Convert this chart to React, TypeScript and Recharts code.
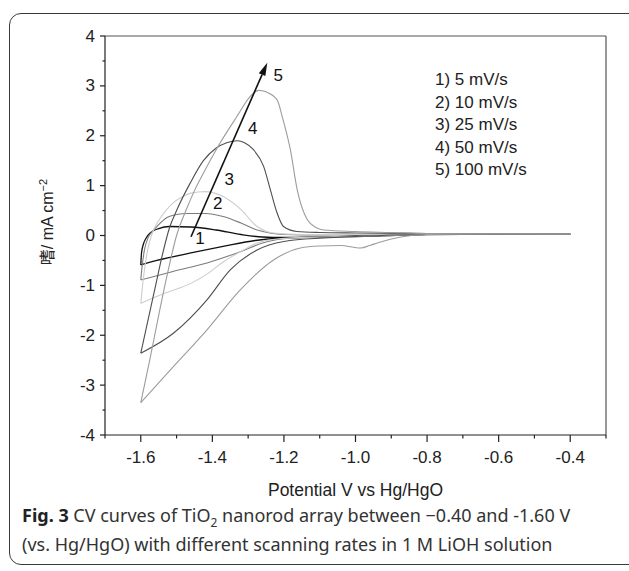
import React from 'react';
import { ComposedChart, Line, XAxis, YAxis, ReferenceLine, ReferenceDot } from 'recharts';

// ---- axis ticks ----
const xTicks = [-1.7, -1.6, -1.5, -1.4, -1.3, -1.2, -1.1, -1.0, -0.9, -0.8, -0.7, -0.6, -0.5, -0.4, -0.3];
const xLabelTicks = ['-1.6', '-1.4', '-1.2', '-1.0', '-0.8', '-0.6', '-0.4'];
const yTicks = [-4, -3.5, -3, -2.5, -2, -1.5, -1, -0.5, 0, 0.5, 1, 1.5, 2, 2.5, 3, 3.5, 4];
const yLabelTicks = ['-4', '-3', '-2', '-1', '0', '1', '2', '3', '4'];

// ---- series (potential V, current mA cm^-2) ----
const c1Anodic = [[-1.6,-0.59],[-1.598,-0.35],[-1.593,-0.18],[-1.585,-0.05],[-1.572,0.06],[-1.55,0.14],[-1.52,0.18],[-1.46,0.17],[-1.39,0.11],[-1.32,0.02],[-1.26,-0.03],[-1.2,-0.04],[-1.1,-0.03],[-1.0,-0.01],[-0.9,0.01],[-0.8,0.03],[-0.6,0.03],[-0.4,0.03]];
const c1Cathodic = [[-1.6,-0.59],[-1.555,-0.5],[-1.46,-0.35],[-1.37,-0.22],[-1.28,-0.1],[-1.2,-0.05],[-1.1,-0.03],[-1.0,-0.02],[-0.9,0.0],[-0.8,0.02],[-0.6,0.03],[-0.4,0.03]];
const c2Anodic = [[-1.6,-0.89],[-1.596,-0.6],[-1.59,-0.3],[-1.58,-0.05],[-1.568,0.08],[-1.555,0.18],[-1.527,0.36],[-1.5,0.42],[-1.47,0.44],[-1.42,0.44],[-1.37,0.38],[-1.32,0.25],[-1.275,0.11],[-1.24,0.05],[-1.2,0.02],[-1.1,0.01],[-1.0,0.02],[-0.8,0.03],[-0.4,0.03]];
const c2Cathodic = [[-1.6,-0.89],[-1.51,-0.72],[-1.415,-0.55],[-1.32,-0.32],[-1.26,-0.15],[-1.18,-0.05],[-1.1,-0.03],[-1.0,-0.01],[-0.8,0.02],[-0.6,0.03],[-0.4,0.03]];
const c3Anodic = [[-1.6,-1.36],[-1.595,-1.0],[-1.588,-0.6],[-1.578,-0.2],[-1.565,0.1],[-1.55,0.3],[-1.53,0.5],[-1.51,0.65],[-1.485,0.77],[-1.46,0.85],[-1.42,0.88],[-1.37,0.78],[-1.32,0.52],[-1.275,0.18],[-1.23,0.05],[-1.15,0.02],[-1.0,0.02],[-0.8,0.03],[-0.4,0.03]];
const c3Cathodic = [[-1.6,-1.36],[-1.53,-1.15],[-1.46,-0.96],[-1.41,-0.75],[-1.37,-0.53],[-1.32,-0.32],[-1.275,-0.15],[-1.22,-0.07],[-1.1,-0.03],[-1.0,-0.02],[-0.8,0.02],[-0.4,0.03]];
const c4Anodic = [[-1.6,-2.36],[-1.58,-1.7],[-1.56,-1.05],[-1.54,-0.4],[-1.52,0.15],[-1.5,0.5],[-1.462,1.05],[-1.425,1.5],[-1.39,1.75],[-1.36,1.86],[-1.33,1.9],[-1.31,1.86],[-1.285,1.72],[-1.257,1.39],[-1.238,0.92],[-1.219,0.45],[-1.201,0.18],[-1.164,0.08],[-1.1,0.06],[-1.0,0.05],[-0.8,0.04],[-0.4,0.03]];
const c4Cathodic = [[-1.6,-2.36],[-1.509,-1.96],[-1.415,-1.29],[-1.35,-0.69],[-1.275,-0.29],[-1.2,-0.12],[-1.09,-0.05],[-1.0,-0.02],[-0.8,0.02],[-0.4,0.03]];
const c5Anodic = [[-1.6,-3.35],[-1.575,-2.5],[-1.55,-1.6],[-1.525,-0.75],[-1.5,0.0],[-1.471,0.55],[-1.45,0.9],[-1.425,1.25],[-1.378,1.86],[-1.331,2.39],[-1.294,2.79],[-1.271,2.91],[-1.25,2.88],[-1.219,2.72],[-1.205,2.39],[-1.182,1.72],[-1.163,0.92],[-1.135,0.32],[-1.11,0.16],[-1.089,0.11],[-1.0,0.08],[-0.9,0.06],[-0.8,0.04],[-0.4,0.03]];
const c5Cathodic = [[-1.6,-3.35],[-1.509,-2.63],[-1.415,-1.89],[-1.322,-1.09],[-1.229,-0.49],[-1.154,-0.25],[-1.1,-0.21],[-1.042,-0.2],[-0.986,-0.25],[-0.96,-0.2],[-0.939,-0.15],[-0.9,-0.07],[-0.874,-0.03],[-0.8,0.02],[-0.6,0.03],[-0.4,0.03]];

const rateLabels = ['1) 5 mV/s', '2) 10 mV/s', '3) 25 mV/s', '4) 50 mV/s', '5) 100 mV/s'];
const curveNums = [
  { t: '1', v: -1.4346, i: -0.056 },
  { t: '2', v: -1.385, i: 0.632 },
  { t: '3', v: -1.3527, i: 1.113 },
  { t: '4', v: -1.2873, i: 2.141 },
  { t: '5', v: -1.2158, i: 3.198 },
];
const arrowStart = { v: -1.4597, i: -0.024 };
const arrowEnd = { v: -1.2465, i: 3.465 };

const toPts = (arr: number[][]) => arr.map(([v, i]) => ({ v, i }));

const series = [
  { key: 'c1a', data: c1Anodic, color: '#111111', w: 1.3 },
  { key: 'c1c', data: c1Cathodic, color: '#111111', w: 1.3 },
  { key: 'c2a', data: c2Anodic, color: '#7c7c7c', w: 1.1 },
  { key: 'c2c', data: c2Cathodic, color: '#7c7c7c', w: 1.1 },
  { key: 'c3a', data: c3Anodic, color: '#cdcdcd', w: 1.1 },
  { key: 'c3c', data: c3Cathodic, color: '#cdcdcd', w: 1.1 },
  { key: 'c4a', data: c4Anodic, color: '#4e4e4e', w: 1.1 },
  { key: 'c4c', data: c4Cathodic, color: '#4e4e4e', w: 1.1 },
  { key: 'c5a', data: c5Anodic, color: '#9c9c9c', w: 1.1 },
  { key: 'c5c', data: c5Cathodic, color: '#9c9c9c', w: 1.1 },
];

const tickFont = { fontFamily: "'Liberation Sans', Arial, sans-serif", fontSize: 17, fill: '#222' };

const XTick = (props: any) => {
  const { x, y, payload } = props;
  const lbl = Number(payload.value).toFixed(1);
  const major = xLabelTicks.includes(lbl);
  return (
    <g>
      <line x1={x} y1={y} x2={x} y2={y + (major ? 7 : 3.5)} stroke="#222" strokeWidth={1.2} />
      {major && (
        <text x={x} y={y + 22.5} textAnchor="middle" dominantBaseline="central" {...tickFont}>
          {lbl}
        </text>
      )}
    </g>
  );
};

const YTick = (props: any) => {
  const { x, y, payload } = props;
  const lbl = String(payload.value);
  const major = yLabelTicks.includes(lbl);
  return (
    <g>
      <line x1={x} y1={y} x2={x - (major ? 5 : 2.5)} y2={y} stroke="#222" strokeWidth={1.2} />
      {major && (
        <text x={x - 10} y={y} textAnchor="end" dominantBaseline="central" {...tickFont}>
          {lbl}
        </text>
      )}
    </g>
  );
};

const Arrow = (props: any) => {
  const { x1, y1, x2, y2 } = props;
  const ang = Math.atan2(y2 - y1, x2 - x1);
  const L = 13;
  const W = 3.6;
  const bx = x2 - L * Math.cos(ang);
  const by = y2 - L * Math.sin(ang);
  const px = -Math.sin(ang) * W;
  const py = Math.cos(ang) * W;
  return (
    <g>
      <line x1={x1} y1={y1} x2={bx} y2={by} stroke="#111" strokeWidth={1.6} />
      <polygon points={`${x2},${y2} ${bx + px},${by + py} ${bx - px},${by - py}`} fill="#111" />
    </g>
  );
};

export default function App() {
  return (
    <div style={{ position: 'absolute', left: 0, top: 0, width: 629, height: 571, background: '#fff', overflow: 'hidden' }}>
      <div
        style={{
          position: 'absolute', left: 9, top: 13, width: 640, height: 552,
          border: '1.5px solid #3a3a3a', borderRadius: 12, boxSizing: 'border-box',
        }}
      />
      <ComposedChart
        width={629}
        height={571}
        margin={{ top: 36, right: 23, bottom: 96, left: 45 }}
        style={{ position: 'absolute', left: 0, top: 0 }}
      >
        <XAxis
          dataKey="v"
          type="number"
          domain={[-1.7, -0.3]}
          ticks={xTicks}
          interval={0}
          tickSize={0}
          tickMargin={0}
          tickLine={false}
          height={40}
          axisLine={{ stroke: '#222', strokeWidth: 1.2 }}
          tick={<XTick />}
          allowDataOverflow
        />
        <YAxis
          dataKey="i"
          type="number"
          domain={[-4, 4]}
          ticks={yTicks}
          interval={0}
          tickSize={0}
          tickMargin={0}
          tickLine={false}
          width={60}
          axisLine={{ stroke: '#222', strokeWidth: 1.2 }}
          tick={<YTick />}
          allowDataOverflow
        />
        <ReferenceLine y={4} stroke="#555" strokeWidth={1.2} />
        <ReferenceLine x={-0.3} stroke="#555" strokeWidth={1.2} />
        {series.map((s) => (
          <Line
            key={s.key}
            data={toPts(s.data)}
            dataKey="i"
            type="monotoneX"
            stroke={s.color}
            strokeWidth={s.w}
            dot={false}
            activeDot={false}
            isAnimationActive={false}
          />
        ))}
        <ReferenceLine
          segment={[{ x: arrowStart.v, y: arrowStart.i }, { x: arrowEnd.v, y: arrowEnd.i }]}
          shape={<Arrow />}
        />
        {curveNums.map((n) => (
          <ReferenceDot
            key={n.t}
            x={n.v}
            y={n.i}
            r={0}
            shape={(p: any) => (
              <text x={p.cx} y={p.cy} textAnchor="middle" dominantBaseline="central" {...tickFont} fill="#111">
                {n.t}
              </text>
            )}
          />
        ))}
      </ComposedChart>

      {/* rate legend */}
      <div
        style={{
          position: 'absolute', left: 435, top: 69, fontFamily: "'Liberation Sans', Arial, sans-serif",
          fontSize: 17, lineHeight: '22.6px', color: '#222', whiteSpace: 'nowrap',
        }}
      >
        {rateLabels.map((r) => (
          <div key={r}>{r}</div>
        ))}
      </div>

      {/* y-axis title */}
      <div
        style={{
          position: 'absolute', left: 46, top: 222, transform: 'translate(-50%, -50%) rotate(-90deg)',
          fontFamily: "'Liberation Sans', 'Noto Sans CJK SC', sans-serif", fontSize: 16, color: '#222', whiteSpace: 'nowrap',
        }}
      >
        嗜/ mA cm<sup style={{ fontSize: 11 }}>−2</sup>
      </div>

      {/* x-axis title */}
      <div
        style={{
          position: 'absolute', left: 355.5, top: 490, transform: 'translate(-50%, -50%)',
          fontFamily: "'Liberation Sans', Arial, sans-serif", fontSize: 17.5, color: '#222', whiteSpace: 'nowrap',
        }}
      >
        Potential V vs Hg/HgO
      </div>

      {/* caption */}
      <div
        style={{
          position: 'absolute', left: 22, top: 501, fontFamily: "'Noto Sans', sans-serif",
          fontSize: 18, lineHeight: '29px', color: '#333', whiteSpace: 'nowrap',
        }}
      >
        <div>
          <b style={{ color: '#222' }}>Fig. 3</b> CV curves of TiO<sub style={{ fontSize: 12, lineHeight: 0 }}>2</sub> nanorod array between −0.40 and -1.60 V
        </div>
        <div>(vs. Hg/HgO) with different scanning rates in 1 M LiOH solution</div>
      </div>
    </div>
  );
}
